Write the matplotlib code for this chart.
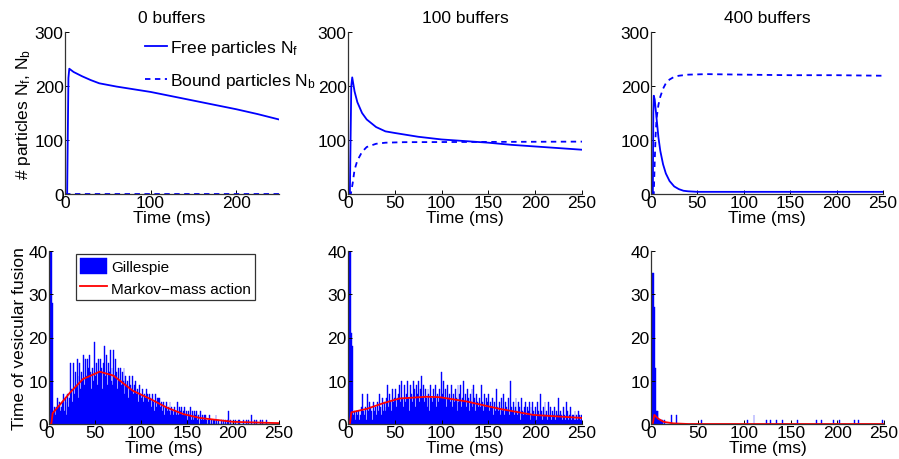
# Particulas livres/ligadas e tempos de fusao vesicular, 0/100/400 buffers

import numpy as np
import matplotlib
matplotlib.use('Agg')
import matplotlib.pyplot as plt

plt.rcParams['font.family'] = ['Liberation Sans', 'DejaVu Sans']
plt.rcParams['mathtext.fontset'] = 'custom'
plt.rcParams['mathtext.rm'] = 'Liberation Sans'
plt.rcParams['mathtext.it'] = 'Liberation Sans'

titles = ['0 buffers', '100 buffers', '400 buffers']

# --- linhas de cima: N livres (solida) e N ligadas (tracejada)
free_t = [
    [0, 2.5, 4, 5, 10, 20, 30, 40, 60, 80, 100, 125, 150, 175, 200, 225, 250],
    [0, 2, 3.5, 4.5, 7, 10, 15, 20, 30, 40, 50, 75, 100, 125, 150, 175, 200, 225, 250],
    [0, 2, 2.5, 3, 4, 6, 8, 10, 13, 16, 20, 25, 30, 35, 40, 50, 250],
]
free_n = [
    [0, 0, 215, 232, 226, 218, 211, 205, 199, 194, 189, 181, 173, 165, 157, 148, 138],
    [0, 0, 200, 216, 190, 170, 150, 138, 124, 116, 113, 106, 101, 98, 95, 91, 88, 85, 82],
    [0, 0, 150, 182, 175, 140, 105, 80, 55, 38, 24, 14, 9, 6, 5, 4, 4],
]
bound_t = [
    [0, 250],
    [0, 3, 5, 7, 10, 15, 20, 30, 40, 60, 250],
    [0, 3, 4, 5, 6, 8, 10, 13, 16, 20, 25, 30, 40, 60, 100, 150, 200, 250],
]
bound_n = [
    [0, 0],
    [0, 0, 20, 45, 62, 78, 87, 93, 95, 96, 97],
    [0, 0, 60, 110, 140, 165, 180, 195, 205, 212, 217, 219, 221, 222, 221, 220, 220, 219],
]

# --- histogramas (bins de 1 ms, 0..249)
gill_0 = [
    40, 40, 40, 28, 3, 4, 4, 2, 4, 6,
    4, 5, 3, 4, 5, 7, 3, 6, 5, 2,
    7, 4, 6, 14, 8, 5, 14, 7, 12, 9,
    15, 11, 6, 14, 8, 12, 10, 16, 9, 15,
    11, 15, 13, 9, 16, 12, 8, 13, 10, 19,
    11, 14, 9, 15, 12, 15, 10, 13, 8, 14,
    18, 11, 16, 9, 14, 12, 17, 10, 13, 9,
    17, 11, 15, 12, 8, 13, 10, 13, 9, 12,
    10, 13, 7, 11, 9, 10, 6, 11, 9, 8,
    11, 7, 9, 6, 10, 7, 8, 5, 9, 7,
    6, 8, 5, 7, 6, 8, 4, 7, 5, 7,
    6, 4, 7, 5, 3, 7, 4, 6, 3, 6,
    6, 4, 5, 3, 5, 2, 4, 5, 3, 4,
    3, 5, 2, 4, 3, 2, 4, 3, 2, 5,
    2, 4, 3, 1, 4, 2, 3, 4, 2, 3,
    1, 3, 2, 4, 1, 3, 2, 1, 3, 2,
    3, 1, 2, 0, 3, 1, 2, 1, 0, 2,
    2, 1, 0, 1, 2, 0, 1, 0, 1, 1,
    0, 2, 1, 0, 1, 0, 0, 1, 0, 1,
    0, 1, 0, 0, 1, 3, 0, 1, 0, 0,
    1, 0, 1, 0, 0, 1, 0, 1, 0, 0,
    0, 1, 0, 0, 1, 0, 1, 0, 0, 0,
    2, 0, 0, 1, 0, 1, 0, 0, 0, 1,
    0, 0, 1, 0, 0, 0, 1, 0, 0, 0,
    0, 0, 0, 0, 0, 0, 0, 0, 0, 0,
]
gill_100 = [
    40, 40, 40, 21, 18, 2, 3, 2, 1, 3,
    2, 3, 1, 2, 4, 7, 3, 2, 4, 1,
    7, 3, 5, 2, 4, 3, 1, 5, 3, 4,
    2, 5, 3, 7, 4, 2, 6, 3, 5, 4,
    3, 6, 9, 4, 7, 5, 3, 8, 5, 6,
    8, 4, 6, 7, 3, 9, 5, 10, 6, 4,
    9, 5, 7, 10, 6, 3, 9, 7, 5, 10,
    6, 8, 4, 9, 7, 10, 5, 8, 11, 6,
    9, 5, 8, 6, 4, 8, 7, 3, 9, 6,
    5, 8, 6, 9, 4, 7, 5, 8, 6, 12,
    7, 5, 10, 6, 8, 4, 9, 6, 7, 5,
    9, 4, 7, 5, 8, 6, 3, 9, 5, 7,
    9, 4, 6, 10, 5, 7, 4, 8, 6, 3,
    7, 5, 8, 4, 9, 6, 3, 7, 5, 4,
    6, 4, 9, 5, 3, 7, 4, 6, 2, 5,
    7, 3, 5, 4, 6, 2, 5, 3, 8, 4,
    3, 5, 2, 6, 4, 3, 7, 2, 5, 4,
    3, 6, 2, 10, 4, 3, 5, 2, 4, 6,
    3, 2, 5, 4, 1, 6, 3, 2, 4, 5,
    2, 4, 3, 5, 1, 4, 2, 5, 3, 2,
    4, 1, 5, 3, 2, 7, 3, 1, 4, 2,
    5, 2, 3, 1, 5, 2, 4, 1, 3, 2,
    4, 1, 3, 2, 6, 2, 1, 3, 2, 1,
    4, 2, 1, 5, 3, 1, 2, 4, 1, 2,
    2, 1, 3, 1, 2, 1, 3, 2, 1, 2,
]
# 400 buffers: quase tudo zero, so os bins nao nulos
gill_400_bins = [1, 2, 3, 4, 5, 6, 7, 8, 9, 10, 11, 12, 14, 21, 27, 54, 103,
                 110, 123, 128, 134, 141, 157, 177, 182, 195, 202, 218, 222, 248]
gill_400_vals = [35, 35, 27, 13, 3, 3, 3, 1, 1, 1, 1, 1, 1, 2, 2, 1, 1,
                 2, 1, 1, 1, 1, 1, 1, 1, 1, 1, 1, 1, 1]

# --- curvas Markov (vermelho)
mk_t = [
    [0, 2.5, 4, 14, 23, 37, 55, 70, 91, 110, 128, 146, 164, 200, 250],
    [0, 2, 3.6, 20, 37.5, 55, 84, 98, 127, 162, 198, 250],
    [0, 1.8, 3.6, 8, 13.5, 24, 40, 250],
]
mk_v = [
    [0, 0, 2.5, 5, 7.3, 10.4, 12.1, 11.2, 7.7, 5.8, 3.8, 2.3, 1.4, 0.5, 0.2],
    [0, 0, 2.7, 3.5, 4.8, 5.9, 6.3, 6.2, 5.2, 3.5, 2.1, 1.4],
    [0, 0, 2.1, 1.2, 0.5, 0.15, 0, 0],
]

g400 = np.zeros(250)
g400[gill_400_bins] = gill_400_vals
gill = [np.array(gill_0), np.array(gill_100), g400]

W, H = 899, 460
top_pos = [(65, 279), (348, 582), (651, 883)]
bot_pos = [(49, 279), (348, 582), (651, 884)]
FS = 12.5

fig = plt.figure(figsize=(W / 100, H / 100), dpi=100)

def style(ax):
    for s in ['top', 'right']:
        ax.spines[s].set_visible(False)
    for s in ['left', 'bottom']:
        ax.spines[s].set_color('#333333')
        ax.spines[s].set_linewidth(0.9)
    ax.tick_params(direction='in', length=3, width=0.7, labelsize=FS, pad=1)
    ax.set_xlim(0, 250)
    ax.set_xlabel('Time (ms)', fontsize=FS, labelpad=0)

for i in range(3):
    x0, x1 = top_pos[i]
    ax = fig.add_axes([x0 / W, (H - 195) / H, (x1 - x0) / W, 162 / H])
    ax.plot(free_t[i], free_n[i], color='blue', lw=1.3, label='Free particles N$_\\mathrm{f}$')
    ax.plot(bound_t[i], bound_n[i], color='blue', lw=1.3, ls=(0, (3, 2.5)),
            label='Bound particles N$_\\mathrm{b}$')
    ax.set_ylim(0, 300)
    ax.set_yticks([0, 100, 200, 300])
    style(ax)
    if i == 0:
        ax.set_xticks([0, 100, 200])
        ax.set_ylabel('# particles N$_\\mathrm{f}$, N$_\\mathrm{b}$', fontsize=FS, labelpad=1)
        ax.legend(loc='upper left', bbox_to_anchor=(0.30, 1.06), frameon=False, fontsize=FS,
                  handlelength=1.3, handletextpad=0.15, labelspacing=0.8)
    else:
        ax.set_xticks([0, 50, 100, 150, 200, 250])
    ax.set_title(titles[i], fontsize=FS, pad=7)

for i in range(3):
    x0, x1 = bot_pos[i]
    ax = fig.add_axes([x0 / W, (H - 425) / H, (x1 - x0) / W, 173 / H])
    bars = ax.bar(np.arange(250), gill[i], width=1, align='edge', color='blue',
                  edgecolor='blue', linewidth=0.3)
    line, = ax.plot(mk_t[i], mk_v[i], color='red', lw=1.3)
    ax.set_ylim(0, 40)
    ax.set_yticks([0, 10, 20, 30, 40])
    ax.set_xticks([0, 50, 100, 150, 200, 250])
    style(ax)
    if i == 0:
        ax.set_ylabel('Time of vesicular fusion', fontsize=FS, labelpad=1)
        leg = ax.legend([bars, line], ['Gillespie', 'Markov\u2212mass action'],
                        loc='upper left', bbox_to_anchor=(0.117, 0.983), fontsize=11,
                        fancybox=False, edgecolor='black', handlelength=1.8,
                        handleheight=1.3, handletextpad=0.25, borderpad=0.25,
                        labelspacing=0.35, borderaxespad=0)
        leg.get_frame().set_linewidth(0.9)

fig.savefig('out.png', dpi=100)
